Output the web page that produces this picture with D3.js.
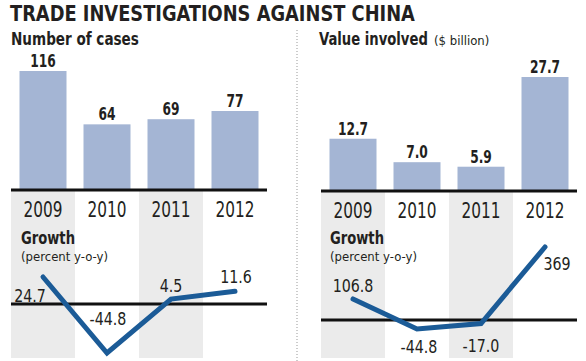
<!DOCTYPE html>
<html>
<head>
<meta charset="utf-8">
<script src="https://cdn.jsdelivr.net/npm/d3@7"></script>
<style>
  body { margin: 0; background: #fff; }
  svg text { font-family: "Liberation Sans Narrow", "DejaVu Sans Condensed", "Roboto Condensed", sans-serif; fill: #231f20; }
</style>
</head>
<body>
<div id="chart"></div>
<script>
// data
const years = ["2009", "2010", "2011", "2012"];
const cases = [116, 64, 69, 77];
const casesGrowth = [24.7, -44.8, 4.5, 11.6];
const valueInvolved = [12.7, 7.0, 5.9, 27.7];
const valueGrowth = [106.8, -44.8, -17.0, 369];

const W = 586, H = 361;
const barColor = "#a4b5d4";
const lineColor = "#1b5b97";
const bandColor = "#ebebeb";

const fmt1 = d => d.toFixed(1);   // plain hyphen for negatives, like the print

// squeeze text horizontally around its own x anchor
function squeeze(sel, k) {
    sel.attr("transform", function() {
        const x = +this.getAttribute("x");
        return `translate(${x * (1 - k)},0) scale(${k},1)`;
    });
}

// squeeze a start-anchored text so it is w pixels wide
function fitWidth(sel, w) {
    sel.each(function() {
        const k = w / this.getComputedTextLength();
        d3.select(this).call(squeeze, Math.min(1, k));
    });
}

const svg = d3.select("#chart").append("svg")
    .attr("width", W)
    .attr("height", H);

// title
svg.append("text")
    .attr("x", 10).attr("y", 21)
    .attr("font-size", 21).attr("font-weight", "bold")
    .text("TRADE INVESTIGATIONS AGAINST CHINA")
    .call(fitWidth, 405);

// dotted separator
svg.append("line")
    .attr("x1", 297).attr("x2", 297)
    .attr("y1", 30).attr("y2", H)
    .attr("stroke", "#999").attr("stroke-width", 1)
    .attr("stroke-dasharray", "1,2");

function panel(opt) {
    const x = d3.scaleBand().domain(years).range([opt.x0, opt.x0 + 256]);
    const barW = 47;

    const y = d3.scaleLinear().domain([0, d3.max(opt.values)]).range([opt.base, opt.top]);
    const gy = d3.scaleLinear().domain(d3.extent(opt.growth)).range(opt.gRange);

    // grey column bands
    svg.selectAll(null)
        .data(years.filter((d, i) => i % 2 === 0))
        .enter().append("rect")
        .attr("x", d => x(d))
        .attr("y", opt.base)
        .attr("width", x.bandwidth())
        .attr("height", 358 - opt.base)
        .attr("fill", bandColor);

    // header
    svg.append("text")
        .attr("x", opt.hx).attr("y", 45)
        .attr("font-size", 18).attr("font-weight", "bold")
        .text(opt.title)
        .call(fitWidth, opt.titleW);
    if (opt.unit) {
        svg.append("text")
            .attr("x", opt.hx + opt.titleW + 6).attr("y", 45)
            .attr("font-size", 13).attr("fill", "#555")
            .text(opt.unit)
            .call(fitWidth, 56);
    }

    // bars
    svg.selectAll(null)
        .data(opt.values)
        .enter().append("rect")
        .attr("x", (d, i) => x(years[i]) + (x.bandwidth() - barW) / 2)
        .attr("y", d => y(d))
        .attr("width", barW)
        .attr("height", d => opt.base - y(d))
        .attr("fill", barColor);

    svg.selectAll(null)
        .data(opt.values)
        .enter().append("text")
        .attr("x", (d, i) => x(years[i]) + x.bandwidth() / 2)
        .attr("y", d => y(d) - 4)
        .attr("text-anchor", "middle")
        .attr("font-size", 17).attr("font-weight", "bold")
        .text(d => opt.fmt(d))
        .call(squeeze, 0.8);

    // baseline
    svg.append("line")
        .attr("x1", opt.x0).attr("x2", opt.x0 + 256)
        .attr("y1", opt.base).attr("y2", opt.base)
        .attr("stroke", "#111").attr("stroke-width", 3);

    // year labels
    svg.selectAll(null)
        .data(years)
        .enter().append("text")
        .attr("x", d => x(d) + x.bandwidth() / 2)
        .attr("y", opt.base + 27)
        .attr("text-anchor", "middle")
        .attr("font-size", 20.5)
        .text(d => d)
        .call(squeeze, 0.83);

    // growth section
    svg.append("text")
        .attr("x", opt.gx).attr("y", 244)
        .attr("font-size", 18).attr("font-weight", "bold")
        .text("Growth")
        .call(fitWidth, 54);
    svg.append("text")
        .attr("x", opt.gx).attr("y", 261)
        .attr("font-size", 13).attr("fill", "#555")
        .text("(percent y-o-y)")
        .call(fitWidth, 91);

    svg.append("line")
        .attr("x1", opt.x0).attr("x2", opt.x0 + 256)
        .attr("y1", gy(0)).attr("y2", gy(0))
        .attr("stroke", "#111").attr("stroke-width", 3);

    const line = d3.line()
        .x((d, i) => x(years[i]) + x.bandwidth() / 2)
        .y(d => gy(d));

    svg.append("path")
        .datum(opt.growth)
        .attr("d", line)
        .attr("fill", "none")
        .attr("stroke", lineColor)
        .attr("stroke-width", 5)
        .attr("stroke-linejoin", "miter")
        .attr("stroke-linecap", "round");

    svg.selectAll(null)
        .data(opt.growth)
        .enter().append("text")
        .attr("x", (d, i) => x(years[i]) + x.bandwidth() / 2 + opt.lab[i][0])
        .attr("y", (d, i) => gy(d) + opt.lab[i][1])
        .attr("text-anchor", "middle")
        .attr("font-size", 18)
        .text(d => opt.gfmt(d))
        .call(squeeze, 0.88);
}

panel({
    x0: 11, base: 190, top: 71, hx: 11,
    title: "Number of cases", titleW: 128,
    values: cases, growth: casesGrowth,
    gRange: [353, 277], gx: 21,
    fmt: d3.format("d"),
    gfmt: fmt1,
    lab: [[-13, 25], [1, -28], [0, -7], [1, -8]]
});

panel({
    x0: 321, base: 191, top: 77, hx: 319,
    title: "Value involved", titleW: 109, unit: "($ billion)",
    values: valueInvolved, growth: valueGrowth,
    gRange: [329, 247], gx: 330,
    fmt: fmt1,
    gfmt: d => (d === 369 ? "369" : fmt1(d)),
    lab: [[0, -7], [2, 24], [0, 29], [12, 23]]
});
</script>
</body>
</html>
